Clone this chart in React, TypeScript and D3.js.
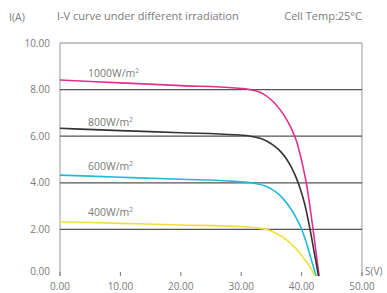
import React from "react";
import * as d3 from "d3";

const xTicks = [0, 10, 20, 30, 40, 50];
const yTicks = [0, 2, 4, 6, 8, 10];
const gridValues = [2, 4, 6, 8];

const series = ["1000W/m", "800W/m", "600W/m", "400W/m"];
const colors = ["#e0308f", "#333333", "#22b8d8", "#f2de3a"];
const labelY = [8.55, 6.45, 4.55, 2.58];

const v1000 = [0, 10, 20, 29, 31.5, 33.5, 35.3, 36.5, 37.6, 38.5, 39.2, 40, 40.8, 41.9, 42.9];
const i1000 = [8.41, 8.29, 8.17, 8.07, 8.0, 7.84, 7.48, 7.12, 6.68, 6.22, 5.75, 4.95, 3.95, 2.0, 0];
const v800 = [0, 10, 20, 29, 31.5, 33.5, 35.3, 36.5, 37.5, 38.4, 39.1, 39.7, 40.5, 41.4, 42.1, 42.8];
const i800 = [6.34, 6.24, 6.15, 6.06, 6.0, 5.88, 5.62, 5.35, 5.02, 4.62, 4.22, 3.8, 3.1, 2.0, 1.0, 0];
const v600 = [0, 10, 20, 29, 32, 34, 35.9, 37, 38.1, 39, 39.9, 40.7, 41.5, 42.4];
const i600 = [4.33, 4.24, 4.15, 4.06, 3.99, 3.86, 3.58, 3.3, 2.93, 2.55, 2.08, 1.5, 0.8, 0];
const v400 = [0, 10, 20, 29, 32, 34.5, 36, 37.5, 38.7, 39.7, 40.6, 41.4, 42.2];
const i400 = [2.33, 2.26, 2.19, 2.13, 2.08, 1.97, 1.8, 1.55, 1.27, 0.98, 0.68, 0.38, 0];

const curves = [
  { v: v1000, i: i1000 },
  { v: v800, i: i800 },
  { v: v600, i: i600 },
  { v: v400, i: i400 },
];

export default function App() {
  const W = 387, H = 293;
  const x = d3.scaleLinear().domain([0, 50]).range([60, 362]);
  const y = d3.scaleLinear().domain([0, 10]).range([276, 43]);
  const line = d3
    .line<[number, number]>()
    .x((d) => x(d[0]))
    .y((d) => y(d[1]))
    .curve(d3.curveMonotoneX);
  const font = "'Open Sans', 'DejaVu Sans', sans-serif";
  const txt = "#7a7a7a";
  return (
    <svg
      width={W}
      height={H}
      style={{ position: "absolute", left: 0, top: 0, background: "#fff" }}
      fontFamily={font}
    >
      <text x={9} y={21} fontSize={10.5} fill={txt}>I(A)</text>
      <text x={57} y={20} fontSize={11} fill={txt}>I-V curve under different irradiation</text>
      <text x={362} y={20} fontSize={11} fill={txt} textAnchor="end">Cell Temp:25°C</text>

      {/* frame */}
      <line x1={x(0)} x2={x(50)} y1={y(10)} y2={y(10)} stroke="#888" strokeWidth={1.2} />
      <line x1={x(50)} x2={x(50)} y1={y(10)} y2={y(0)} stroke="#999" strokeWidth={1} />
      <line x1={x(0)} x2={x(0)} y1={y(10)} y2={y(0)} stroke="#999" strokeWidth={1} />

      {gridValues.map((g) => (
        <line key={g} x1={x(0)} x2={x(50)} y1={y(g)} y2={y(g)} stroke="#555" strokeWidth={1.3} />
      ))}

      {xTicks.map((t) => (
        <g key={t}>
          <line x1={x(t)} x2={x(t)} y1={y(0)} y2={y(0) - 4} stroke="#777" strokeWidth={1} />
          <text x={x(t)} y={290} fontSize={10} fill={txt} textAnchor="middle">
            {t.toFixed(2)}
          </text>
        </g>
      ))}
      {yTicks.map((t) => (
        <text key={t} x={50} y={y(t) + (t === 0 ? -1 : 3.5)} fontSize={10} fill={txt} textAnchor="end">
          {t.toFixed(2)}
        </text>
      ))}
      <text x={365} y={275} fontSize={10} fill={txt}>S(V)</text>

      {curves.map((c, k) => (
        <path
          key={k}
          d={line(c.v.map((v, j) => [v, c.i[j]] as [number, number])) || ""}
          fill="none"
          stroke={colors[k]}
          strokeWidth={1.6}
        />
      ))}

      {series.map((s, k) => (
        <text key={s} x={88} y={y(labelY[k])} fontSize={10.5} fill={txt}>
          {s}
          <tspan dy={-4} fontSize={6.5}>2</tspan>
        </text>
      ))}
    </svg>
  );
}
